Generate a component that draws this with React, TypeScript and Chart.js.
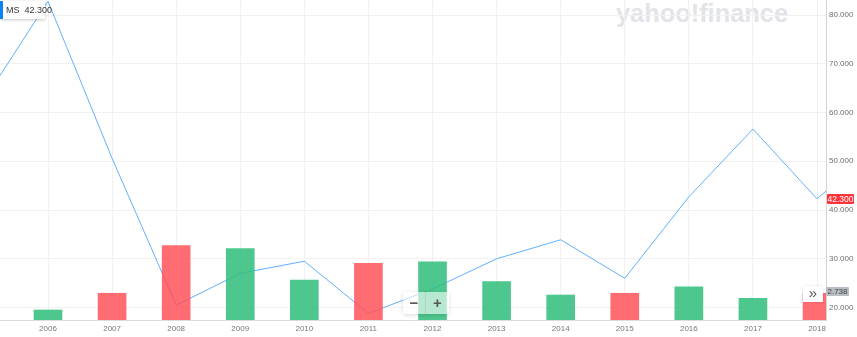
import React, { useEffect, useRef } from "react";
import { Chart, registerables } from "chart.js";

Chart.register(...registerables);

// ---- data ----
const lineYears = [2005, 2006, 2007, 2008, 2009, 2010, 2011, 2012, 2013, 2014, 2015, 2016, 2017, 2018, 2019];
const closePrices = [62.5, 82.8, 50.6, 20.5, 27.0, 29.5, 18.8, 23.8, 30.0, 33.9, 26.0, 42.7, 56.6, 42.3, 53.5];
const barYears = [2006, 2007, 2008, 2009, 2010, 2011, 2012, 2013, 2014, 2015, 2016, 2017, 2018];
const volumes = [1.03, 2.74, 7.62, 7.31, 4.1, 5.81, 5.95, 3.93, 2.56, 2.74, 3.41, 2.22, 2.738];
const xTickYears = [2006, 2007, 2008, 2009, 2010, 2011, 2012, 2013, 2014, 2015, 2016, 2017, 2018];
const yTickValues = [20, 30, 40, 50, 60, 70, 80];
const symbol = "MS";
const lastPrice = "42.300";
const lastVolume = "2.738";

const FONT = "'Liberation Sans', Arial, Helvetica, sans-serif";
const UP = "rgba(48,190,123,0.86)";
const DOWN = "rgba(255,80,86,0.84)";

export default function App() {
  const canvasRef = useRef<HTMLCanvasElement | null>(null);
  const wmRef = useRef<HTMLSpanElement | null>(null);

  useEffect(() => {
    const canvas = canvasRef.current;
    if (!canvas) return;

    const barColors = barYears.map((yr) => {
      const i = lineYears.indexOf(yr);
      return closePrices[i] >= closePrices[i - 1] ? UP : DOWN;
    });

    const chart = new Chart(canvas, {
      data: {
        datasets: [
          {
            type: "bar",
            data: barYears.map((x, i) => ({ x, y: volumes[i] })),
            backgroundColor: barColors,
            borderWidth: 0,
            barThickness: 28,
            yAxisID: "vol",
            order: 0,
          } as any,
          {
            type: "line",
            data: lineYears.map((x, i) => ({ x, y: closePrices[i] })),
            borderColor: "rgb(98,176,255)",
            borderWidth: 1,
            pointRadius: 0,
            tension: 0,
            fill: false,
            yAxisID: "y",
            order: 1,
          } as any,
        ],
      },
      options: {
        animation: false,
        responsive: true,
        maintainAspectRatio: false,
        layout: { padding: 0 },
        plugins: { legend: { display: false }, tooltip: { enabled: false } },
        scales: {
          x: {
            type: "linear",
            offset: false,
            min: 2005.251,
            max: 2018.14,
            afterBuildTicks: (s: any) => {
              s.ticks = xTickYears.map((v) => ({ value: v }));
            },
            afterFit: (s: any) => {
              s.height = 17;
              s.paddingLeft = 0;
              s.paddingRight = 0;
            },
            grid: { color: "#f1f1f1", drawTicks: false, offset: false },
            border: { color: "#dcdcdc" },
            ticks: {
              autoSkip: false,
              maxRotation: 0,
              padding: 4,
              color: "#777",
              font: { family: FONT, size: 8 },
              callback: (v: any) => String(v),
            },
          },
          y: {
            type: "linear",
            position: "right",
            min: 17.44,
            max: 83.08,
            afterBuildTicks: (s: any) => {
              s.ticks = yTickValues.map((v) => ({ value: v }));
            },
            afterFit: (s: any) => {
              s.width = 31;
              s.paddingTop = 0;
              s.paddingBottom = 0;
            },
            grid: { color: "#f1f1f1", drawTicks: false },
            border: { color: "#d4d4d4" },
            ticks: {
              padding: 3,
              color: "#6f6f6f",
              font: { family: FONT, size: 8 },
              callback: (v: any) => Number(v).toFixed(3),
            },
          },
          vol: {
            type: "linear",
            display: false,
            min: 0,
            max: 32.8,
          },
        },
      } as any,
    });

    const wm = wmRef.current;
    if (wm) {
      const w = wm.getBoundingClientRect().width;
      if (w > 0) wm.style.transform = `scaleX(${172 / w})`;
    }

    return () => chart.destroy();
  }, []);

  return (
    <div
      style={{
        position: "fixed",
        left: 0,
        top: 0,
        width: 857,
        height: 337,
        background: "#fff",
        overflow: "hidden",
        fontFamily: FONT,
      }}
    >
      <div style={{ position: "absolute", left: 616, top: 0, lineHeight: "26px", whiteSpace: "nowrap" }}>
        <span
          ref={wmRef}
          style={{
            display: "inline-block",
            fontSize: 26,
            fontWeight: 700,
            color: "#e2e4e8",
            transformOrigin: "left top",
            fontFamily: FONT,
          }}
        >
          yahoo!finance
        </span>
      </div>
      <canvas
        ref={canvasRef}
        width={857}
        height={337}
        style={{ position: "absolute", left: 0, top: 0, width: 857, height: 337 }}
      />
      {/* tooltip */}
      <div
        style={{
          position: "absolute",
          left: 0,
          top: 1,
          width: 45,
          height: 18,
          borderLeft: "3px solid #0a84f4",
          background: "#fff",
          boxShadow: "0 1px 3px rgba(0,0,0,0.22)",
          fontSize: 9,
          lineHeight: "18px",
          color: "#333",
          whiteSpace: "nowrap",
          paddingLeft: 3,
          boxSizing: "border-box",
        }}
      >
        {symbol}&nbsp;&nbsp;{lastPrice}
      </div>
      {/* price label */}
      <div
        style={{
          position: "absolute",
          left: 827,
          top: 194,
          width: 27,
          height: 10,
          background: "#ff333a",
          color: "#fff",
          fontSize: 8.5,
          lineHeight: "10px",
          textAlign: "center",
          borderRadius: 1,
        }}
      >
        {lastPrice}
      </div>
      {/* volume label */}
      <div
        style={{
          position: "absolute",
          left: 826,
          top: 287,
          width: 23,
          height: 9,
          background: "#b9bec5",
          color: "#444",
          fontSize: 8,
          lineHeight: "9px",
          textAlign: "center",
          borderRadius: 1,
        }}
      >
        {lastVolume}
      </div>
      {/* scroll button */}
      <div
        style={{
          position: "absolute",
          left: 803,
          top: 286,
          width: 20,
          height: 16,
          background: "#fff",
          boxShadow: "0 0 2px rgba(0,0,0,0.12)",
          color: "#555",
          fontSize: 15,
          lineHeight: "14px",
          textAlign: "center",
        }}
      >
        »
      </div>
      {/* zoom control */}
      <div
        style={{
          position: "absolute",
          left: 403,
          top: 292,
          width: 46,
          height: 22,
          background: "rgba(255,255,255,0.6)",
          boxShadow: "0 1px 4px rgba(0,0,0,0.15)",
          display: "flex",
          color: "#555",
          fontWeight: 700,
          fontSize: 15,
          lineHeight: "22px",
        }}
      >
        <div style={{ width: 22, textAlign: "center", borderRight: "1px solid rgba(0,0,0,0.08)" }}>−</div>
        <div style={{ width: 23, textAlign: "center" }}>+</div>
      </div>
    </div>
  );
}
